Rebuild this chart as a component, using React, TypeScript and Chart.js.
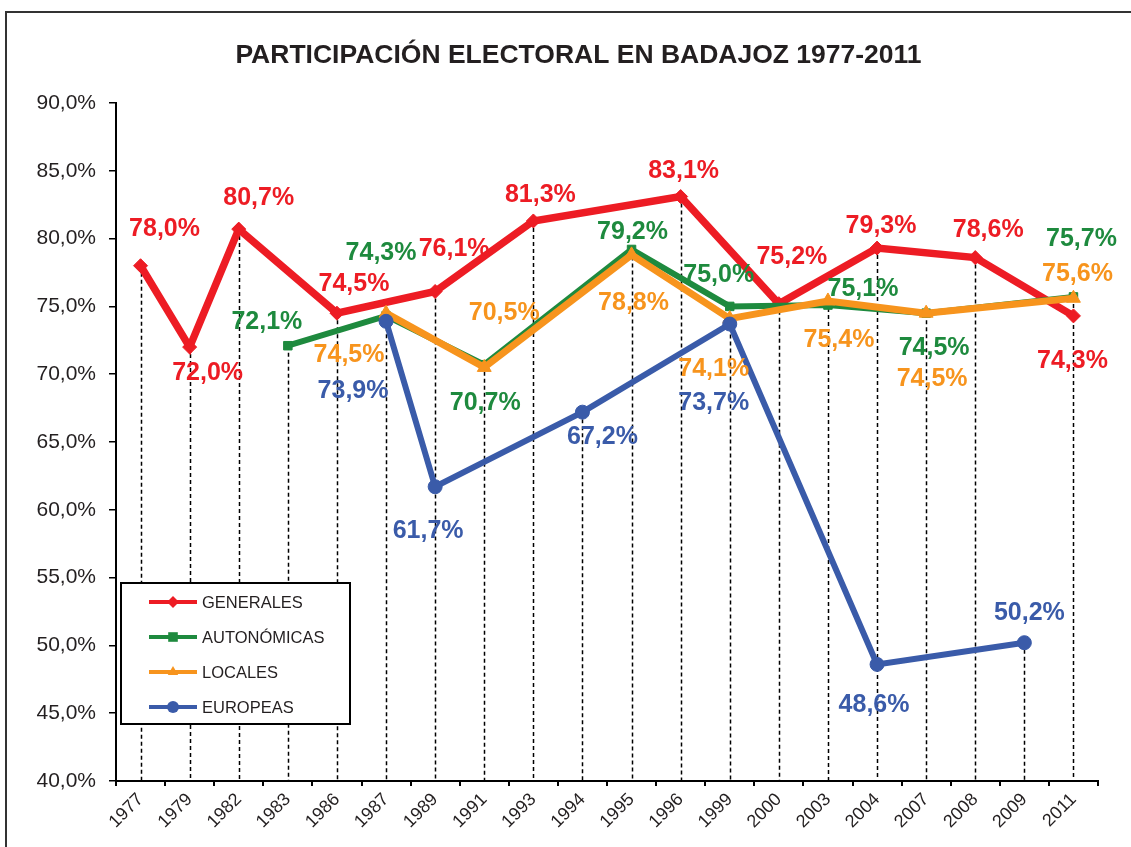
import React, { useEffect, useRef } from 'react';
import { Chart, registerables } from 'chart.js';

Chart.register(...registerables);

const TITLE = 'PARTICIPACIÓN ELECTORAL EN BADAJOZ 1977-2011';

const YEARS = ['1977', '1979', '1982', '1983', '1986', '1987', '1989', '1991', '1993', '1994',
  '1995', '1996', '1999', '2000', '2003', '2004', '2007', '2008', '2009', '2011'];

const GENERALES = [78.0, 72.0, 80.7, null, 74.5, null, 76.1, null, 81.3, null,
  null, 83.1, null, 75.2, null, 79.3, null, 78.6, null, 74.3];
const AUTONOMICAS = [null, null, null, 72.1, null, 74.3, null, 70.7, null, null,
  79.2, null, 75.0, null, 75.1, null, 74.5, null, null, 75.7];
const LOCALES = [null, null, null, null, null, 74.5, null, 70.5, null, null,
  78.8, null, 74.1, null, 75.4, null, 74.5, null, null, 75.6];
const EUROPEAS = [null, null, null, null, null, 73.9, 61.7, null, null, 67.2,
  null, null, 73.7, null, null, 48.6, null, null, 50.2, null];

const Y_MIN = 40;
const Y_MAX = 90;
const Y_STEP = 5;

// label placement (pixel offsets from each point), aligned with YEARS
const GEN_LABEL_OFFSETS = [[24, -37], [18, 26], [20, -31], null, [17, -29], null, [19, -42], null, [7, -26], null,
  null, [3, -25], null, [13, -47], null, [4, -22], null, [13, -27], null, [-1, 45]];
const AUT_LABEL_OFFSETS = [null, null, null, [-21, -24], null, [-5, -63], null, [1, 38], null, null,
  [1, -17], null, [-11, -31], null, [35, -16], null, [8, 35], null, null, [8, -58]];
const LOC_LABEL_OFFSETS = [null, null, null, null, null, [-37, 42], null, [20, -54], null, null,
  [2, 48], null, [-16, 51], null, [11, 39], null, [6, 66], null, null, [4, -24]];
const EUR_LABEL_OFFSETS = [null, null, null, null, null, [-33, 70], [-7, 44], null, null, [20, 25],
  null, null, [-16, 79], null, null, [-3, 41], null, null, [5, -30], null];

const RED = '#ED1C24';
const GREEN = '#1E8A3E';
const ORANGE = '#F7941D';
const BLUE = '#3A5BA9';
const FONT = 'Arial, "Liberation Sans", Helvetica, sans-serif';
const TEXT = '#231F20';

const fmt = (v: number) => v.toFixed(1).replace('.', ',') + '%';

const framePlugin = {
  id: 'frame',
  beforeDraw(chart: any) {
    const ctx = chart.ctx;
    ctx.save();
    ctx.fillStyle = '#fff';
    ctx.fillRect(0, 0, chart.width, chart.height);
    ctx.strokeStyle = '#333';
    ctx.lineWidth = 2;
    ctx.strokeRect(6, 12, chart.width + 20, chart.height + 20);
    ctx.restore();
  },
  afterDraw(chart: any) {
    const ctx = chart.ctx;
    ctx.save();
    ctx.fillStyle = TEXT;
    ctx.font = `bold 26.5px ${FONT}`;
    ctx.textAlign = 'center';
    ctx.textBaseline = 'middle';
    ctx.fillText(TITLE, 578.5, 56);
    ctx.restore();
  },
};

const dropLinesPlugin = {
  id: 'dropLines',
  beforeDatasetsDraw(chart: any) {
    const { ctx, chartArea } = chart;
    const xs = chart.scales.x;
    const ys = chart.scales.y;
    ctx.save();
    ctx.strokeStyle = '#000';
    ctx.lineWidth = 1.5;
    ctx.setLineDash([4, 3]);
    YEARS.forEach((_, i) => {
      let max: number | null = null;
      chart.data.datasets.forEach((ds: any) => {
        const v = ds.data[i];
        if (v !== null && v !== undefined && (max === null || v > max)) max = v;
      });
      if (max === null) return;
      const px = Math.round(xs.getPixelForValue(i)) + 0.5;
      const py = ys.getPixelForValue(max);
      ctx.beginPath();
      ctx.moveTo(px, py);
      ctx.lineTo(px, chartArea.bottom);
      ctx.stroke();
    });
    ctx.restore();
  },
};

const labelsPlugin = {
  id: 'valueLabels',
  afterDatasetsDraw(chart: any) {
    const { ctx } = chart;
    const xs = chart.scales.x;
    const ys = chart.scales.y;
    ctx.save();
    ctx.font = `bold 25px ${FONT}`;
    ctx.textAlign = 'center';
    ctx.textBaseline = 'middle';
    chart.data.datasets.forEach((ds: any) => {
      ds.data.forEach((v: number | null, i: number) => {
        if (v === null || v === undefined) return;
        const off = ds.labelOffsets[i] || [0, -20];
        const px = xs.getPixelForValue(i) + off[0];
        const py = ys.getPixelForValue(v) + off[1];
        ctx.fillStyle = ds.borderColor;
        ctx.fillText(fmt(v), px, py);
      });
    });
    ctx.restore();
  },
};

function drawMarker(ctx: CanvasRenderingContext2D, style: string, x: number, y: number, r: number, color: string) {
  ctx.fillStyle = color;
  ctx.beginPath();
  if (style === 'rectRot') {
    ctx.moveTo(x, y - r);
    ctx.lineTo(x + r, y);
    ctx.lineTo(x, y + r);
    ctx.lineTo(x - r, y);
    ctx.closePath();
  } else if (style === 'rect') {
    ctx.rect(x - r * 0.8, y - r * 0.8, r * 1.6, r * 1.6);
  } else if (style === 'triangle') {
    ctx.moveTo(x, y - r);
    ctx.lineTo(x + r * 0.87, y + r * 0.5);
    ctx.lineTo(x - r * 0.87, y + r * 0.5);
    ctx.closePath();
  } else {
    ctx.arc(x, y, r, 0, Math.PI * 2);
  }
  ctx.fill();
}

const legendPlugin = {
  id: 'customLegend',
  afterDraw(chart: any) {
    const { ctx, chartArea } = chart;
    const left = chartArea.left + 5;
    const bottom = chartArea.bottom - 57;
    const w = 229;
    const h = 141;
    const top = bottom - h;
    ctx.save();
    ctx.fillStyle = '#fff';
    ctx.fillRect(left, top, w, h);
    ctx.strokeStyle = '#000';
    ctx.lineWidth = 2;
    ctx.strokeRect(left, top, w, h);
    ctx.font = `16.5px ${FONT}`;
    ctx.textBaseline = 'middle';
    ctx.textAlign = 'left';
    chart.data.datasets.forEach((ds: any, k: number) => {
      const y = top + 19 + k * 35;
      ctx.strokeStyle = ds.borderColor;
      ctx.lineWidth = 4;
      ctx.beginPath();
      ctx.moveTo(left + 28, y);
      ctx.lineTo(left + 76, y);
      ctx.stroke();
      drawMarker(ctx, ds.pointStyle, left + 52, y, 6, ds.borderColor);
      ctx.fillStyle = TEXT;
      ctx.fillText(ds.label, left + 81, y + 1);
    });
    ctx.restore();
  },
};

export default function App() {
  const ref = useRef<HTMLCanvasElement | null>(null);

  useEffect(() => {
    if (!ref.current) return;
    const mk = (label: string, data: (number | null)[], color: string, pointStyle: string,
      radius: number, width: number, order: number, labelOffsets: any[]) => ({
      label,
      data,
      borderColor: color,
      backgroundColor: color,
      pointBackgroundColor: color,
      pointBorderColor: color,
      pointStyle,
      pointRadius: radius,
      pointBorderWidth: 1,
      borderWidth: width,
      spanGaps: true,
      tension: 0,
      order,
      labelOffsets,
    });
    const chart = new Chart(ref.current, {
      type: 'line',
      data: {
        labels: YEARS,
        datasets: [
          mk('GENERALES', GENERALES, RED, 'rectRot', 7, 7.5, 4, GEN_LABEL_OFFSETS),
          mk('AUTONÓMICAS', AUTONOMICAS, GREEN, 'rect', 6, 6, 3, AUT_LABEL_OFFSETS),
          mk('LOCALES', LOCALES, ORANGE, 'triangle', 8, 7, 2, LOC_LABEL_OFFSETS),
          mk('EUROPEAS', EUROPEAS, BLUE, 'circle', 7, 6, 1, EUR_LABEL_OFFSETS),
        ] as any,
      },
      options: {
        responsive: false,
        animation: false,
        layout: { padding: { left: 0, right: 33, top: 103, bottom: 0 } },
        plugins: {
          legend: { display: false },
          tooltip: { enabled: false },
          title: { display: false },
        },
        scales: {
          x: {
            type: 'category',
            offset: true,
            grid: { offset: true, drawOnChartArea: false, drawTicks: true, tickLength: 5, color: '#000', lineWidth: 2 },
            border: { color: '#000', width: 2 },
            ticks: {
              autoSkip: false,
              minRotation: 45,
              maxRotation: 45,
              color: TEXT,
              padding: 3,
              font: { family: FONT, size: 18 },
            },
            afterFit: (s: any) => { s.height = 66; },
          },
          y: {
            min: Y_MIN,
            max: Y_MAX,
            ticks: {
              stepSize: Y_STEP,
              color: TEXT,
              padding: 13,
              font: { family: FONT, size: 21 },
              callback: (v: any) => fmt(Number(v)),
            },
            grid: { drawOnChartArea: false, drawTicks: true, tickLength: 7, color: '#000', lineWidth: 1.5 },
            border: { color: '#000', width: 2 },
            afterFit: (s: any) => { s.width = 116; },
          },
        },
      } as any,
      plugins: [framePlugin, dropLinesPlugin, labelsPlugin, legendPlugin],
    });
    return () => chart.destroy();
  }, []);

  return (
    <div style={{ position: 'absolute', left: 0, top: 0, width: 1131, height: 847, background: '#fff' }}>
      <canvas ref={ref} width={1131} height={847} />
    </div>
  );
}
